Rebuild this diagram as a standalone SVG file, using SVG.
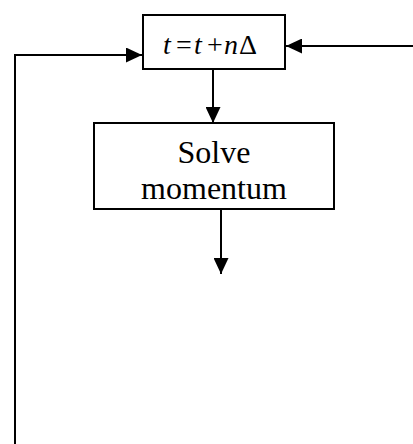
<svg xmlns="http://www.w3.org/2000/svg" width="413" height="444" viewBox="0 0 413 444">
<defs>
<style>
.box{fill:#fff;stroke:#000;stroke-width:2}
.ln{fill:none;stroke:#000;stroke-width:2}
.lbl{font-family:"Liberation Serif","Times New Roman",serif;fill:#000}
.it{font-style:italic}
</style>
<marker id="ah" viewBox="0 0 16 15" refX="16" refY="7.5" markerWidth="16" markerHeight="15" markerUnits="userSpaceOnUse" orient="auto">
<path d="M0,0 L16,7.5 L0,15 Z" fill="#000"/>
</marker>
</defs>
<rect width="413" height="444" fill="#fff"/>
<g id="connectors">
<path class="ln" d="M15,444 L15,55 L142,55" marker-end="url(#ah)"/>
<path class="ln" d="M413,46 L286,46" marker-end="url(#ah)"/>
<path class="ln" d="M213,69 L213,123" marker-end="url(#ah)"/>
<path class="ln" d="M221,210 L221,274" marker-end="url(#ah)"/>
</g>
<g id="node-time">
<rect class="box" x="143" y="15" width="142" height="54"/>
<text class="lbl" y="54" font-size="28"><tspan class="it" x="163">t</tspan><tspan x="176">=</tspan><tspan class="it" x="194">t</tspan><tspan x="207">+</tspan><tspan class="it" x="224">n</tspan><tspan x="239">Δ</tspan></text>
</g>
<g id="node-momentum">
<rect class="box" x="94" y="123" width="240" height="86"/>
<text class="lbl" x="214" y="163" font-size="32" text-anchor="middle">Solve</text>
<text class="lbl" x="214" y="199" font-size="32" text-anchor="middle">momentum</text>
</g>
</svg>
